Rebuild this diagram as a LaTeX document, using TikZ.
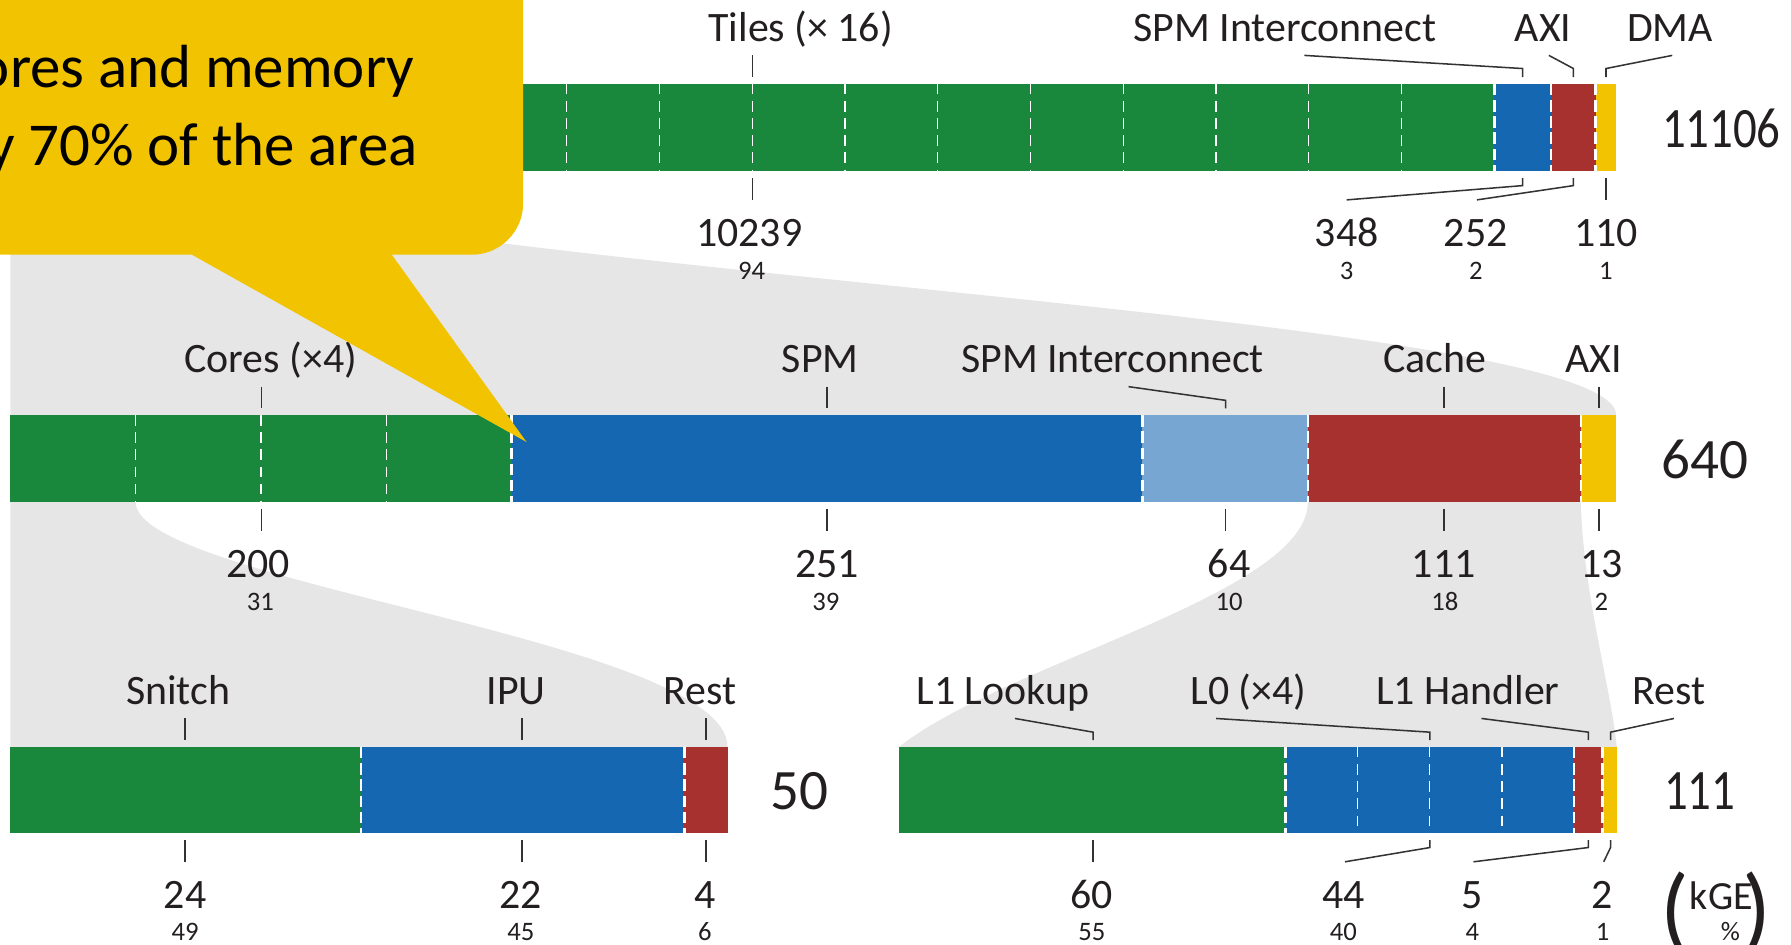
\documentclass[tikz,border=0pt]{standalone}
\usepackage{fontspec}
\setmainfont{Carlito}
\usepackage{graphicx}
\definecolor{bgreen}{HTML}{1A883C}
\definecolor{bblue}{HTML}{1467B0}
\definecolor{blight}{HTML}{76A6D1}
\definecolor{bred}{HTML}{A6312F}
\definecolor{byellow}{HTML}{F2C300}
\definecolor{fangrey}{HTML}{E6E6E6}
\definecolor{txt}{HTML}{231F20}
\definecolor{leadc}{HTML}{333333}
\tikzset{
  lbl/.style={font=\fontsize{22}{26}\selectfont, text=txt, inner sep=0pt, anchor=base},
  num/.style={font=\fontsize{22}{26}\selectfont, text=txt, inner sep=0pt, anchor=base},
  sml/.style={font=\fontsize{14}{17}\selectfont, text=txt, inner sep=0pt, anchor=base},
  tot/.style={font=\fontsize{30}{36}\selectfont, text=txt, inner sep=0pt, anchor=base},
  paren/.style={font=\fontsize{50}{60}\selectfont, text=txt, inner sep=0pt, anchor=base},
  callouttext/.style={font=\fontsize{32}{40}\selectfont, text=black, inner sep=0pt, anchor=base east},
  leader/.style={draw=leadc, line width=0.8pt},
  bigsep/.style={draw=white, line width=1.4pt, dash pattern=on 6pt off 2.5pt},
  smallsep/.style={draw=white, line width=0.6pt, dash pattern=on 5.5pt off 3.5pt},
}
\begin{document}
\begin{tikzpicture}[x=0.6pt,y=-0.6pt]
\useasboundingbox (0,0) rectangle (1568,827);
% ---------- zoom fans ----------
\fill[fangrey] (9,150) -- (90.2,150) .. controls (350,240) and (1415,275) .. (1415,363.5) -- (9,363.5) -- cycle;
\fill[fangrey] (9,439.5) -- (118.75,439.5) .. controls (118.75,510) and (637,560) .. (637,654) -- (9,654) -- cycle;
\fill[fangrey] (1145,439.5) -- (1384,439.5) .. controls (1386,520) and (1410,600) .. (1415.5,654) -- (787,654) .. controls (880,580) and (1145,520) .. (1145,439.5) -- cycle;

% ---------- top bar ----------
\fill[bgreen] (9,73.5) rectangle (1308.2,150);
\fill[bblue] (1308.2,73.5) rectangle (1358,150);
\fill[bred] (1358,73.5) rectangle (1397,150);
\fill[byellow] (1397,73.5) rectangle (1415,150);
\foreach \k in {1,...,15} \draw[smallsep] ({9+81.2*\k},73.5) -- ({9+81.2*\k},150);
\foreach \xx in {1308.2,1358,1397} \draw[bigsep] (\xx,73.5) -- (\xx,150);

\node[lbl] (l-tiles) at (701,36) {Tiles (× 16)};
\node[lbl] (l-spmi1) at (1125,36) {SPM Interconnect};
\node[lbl] (l-axi1) at (1351,36) {AXI};
\node[lbl] (l-dma) at (1462,36) {DMA};
\draw[leader] (658.6,48.5) -- (658.6,67.5);
\draw[leader] (1142,48.5) -- (1333,60) -- (1333,67.5);
\draw[leader] (1356,48.5) -- (1377.5,60) -- (1377.5,67.5);
\draw[leader] (1464,48.5) -- (1406,60) -- (1406,67.5);
\draw[leader] (658.6,156) -- (658.6,175);
\draw[leader] (1333,156) -- (1333,162.5) -- (1179,175);
\draw[leader] (1377.5,156) -- (1377.5,162.5) -- (1293,175);
\draw[leader] (1406,156) -- (1406,175);
\node[num] (n-tiles) at (656,216) {10239};
\node[num] (n-spmi1) at (1179,216) {348};
\node[num] (n-axi1) at (1292,216) {252};
\node[num] (n-dma) at (1406,216) {110};
\node[sml] (p-tiles) at (658,245) {94};
\node[sml] (p-spmi1) at (1179,245) {3};
\node[sml] (p-axi1) at (1292,245) {2};
\node[sml] (p-dma) at (1406,245) {1};
\node[tot] (t-top) at (1507,129) {\scalebox{0.82}[1]{11106}};

% ---------- middle bar ----------
\fill[bgreen] (9,363.5) rectangle (448,439.5);
\fill[bblue] (448,363.5) rectangle (1000,439.5);
\fill[blight] (1000,363.5) rectangle (1145,439.5);
\fill[bred] (1145,363.5) rectangle (1384,439.5);
\fill[byellow] (1384,363.5) rectangle (1415,439.5);
\foreach \xx in {118.75,228.5,338.25} \draw[smallsep] (\xx,363.5) -- (\xx,439.5);
\foreach \xx in {448,1000,1145,1384} \draw[bigsep] (\xx,363.5) -- (\xx,439.5);

\node[lbl] (l-cores) at (237,326) {Cores (×4)};
\node[lbl] (l-spm) at (718,326) {SPM};
\node[lbl] (l-spmi2) at (974,326) {SPM Interconnect};
\node[lbl] (l-cache) at (1256,326) {Cache};
\node[lbl] (l-axi2) at (1395,326) {AXI};
\draw[leader] (229,338.5) -- (229,357.5);
\draw[leader] (724,338.5) -- (724,357.5);
\draw[leader] (988,338.5) -- (1073,350.5) -- (1073,357.5);
\draw[leader] (1264,338.5) -- (1264,357.5);
\draw[leader] (1400,338.5) -- (1400,357.5);
\draw[leader] (229,445.5) -- (229,464.5);
\draw[leader] (724,445.5) -- (724,464.5);
\draw[leader] (1073,445.5) -- (1073,464.5);
\draw[leader] (1264,445.5) -- (1264,464.5);
\draw[leader] (1400,445.5) -- (1400,464.5);
\node[num] (n-cores) at (226,505.5) {200};
\node[num] (n-spm) at (724,505.5) {251};
\node[num] (n-spmi2) at (1076,505.5) {64};
\node[num] (n-cache) at (1264,505.5) {111};
\node[num] (n-axi2) at (1402,505.5) {13};
\node[sml] (p-cores) at (228,534.5) {31};
\node[sml] (p-spm) at (723,534.5) {39};
\node[sml] (p-spmi2) at (1076,534.5) {10};
\node[sml] (p-cache) at (1265,534.5) {18};
\node[sml] (p-axi2) at (1402,534.5) {2};
\node[tot] (t-mid) at (1493,418.5) {640};

% ---------- bottom left bar ----------
\fill[bgreen] (9,654) rectangle (316,729.5);
\fill[bblue] (316,654) rectangle (599,729.5);
\fill[bred] (599,654) rectangle (637,729.5);
\foreach \xx in {316,599} \draw[bigsep] (\xx,654) -- (\xx,729.5);
\node[lbl] (l-snitch) at (156,616.5) {Snitch};
\node[lbl] (l-ipu) at (452,616.5) {IPU};
\node[lbl] (l-rest1) at (613,616.5) {Rest};
\draw[leader] (162,629) -- (162,648);
\draw[leader] (457,629) -- (457,648);
\draw[leader] (618,629) -- (618,648);
\draw[leader] (162,735.5) -- (162,754.5);
\draw[leader] (457,735.5) -- (457,754.5);
\draw[leader] (618,735.5) -- (618,754.5);
\node[num] (n-snitch) at (162,795.5) {24};
\node[num] (n-ipu) at (456,795.5) {22};
\node[num] (n-rest1) at (617,795.5) {4};
\node[sml] (p-snitch) at (162,823) {49};
\node[sml] (p-ipu) at (456,823) {45};
\node[sml] (p-rest1) at (617,823) {6};
\node[tot] (t-core) at (700,708.75) {50};

% ---------- bottom right bar ----------
\fill[bgreen] (787,654) rectangle (1125.5,729.5);
\fill[bblue] (1125.5,654) rectangle (1378,729.5);
\fill[bred] (1378,654) rectangle (1403,729.5);
\fill[byellow] (1403,654) rectangle (1415.5,729.5);
\foreach \xx in {1188.6,1251.8,1315} \draw[smallsep] (\xx,654) -- (\xx,729.5);
\foreach \xx in {1125.5,1378,1403} \draw[bigsep] (\xx,654) -- (\xx,729.5);
\node[lbl] (l-l1l) at (878,616.5) {L1 Lookup};
\node[lbl] (l-l0) at (1093,616.5) {L0 (×4)};
\node[lbl] (l-l1h) at (1285,616.5) {L1 Handler};
\node[lbl] (l-rest2) at (1461,616.5) {Rest};
\draw[leader] (888.6,629) -- (957,641) -- (957,648);
\draw[leader] (1064.6,629) -- (1251.8,641) -- (1251.8,648);
\draw[leader] (1297,629) -- (1390.5,641) -- (1390.5,648);
\draw[leader] (1465.5,629) -- (1410,641) -- (1410,648);
\draw[leader] (957,735.5) -- (957,754.5);
\draw[leader] (1251.8,735.5) -- (1251.8,742) -- (1177.5,754.5);
\draw[leader] (1390.5,735.5) -- (1390.5,742) -- (1290,754.5);
\draw[leader] (1410,735.5) -- (1410,742) -- (1404,754.5);
\node[num] (n-l1l) at (956,795.5) {60};
\node[num] (n-l0) at (1176,795.5) {44};
\node[num] (n-l1h) at (1289,795.5) {5};
\node[num] (n-rest2) at (1403,795.5) {2};
\node[sml] (p-l1l) at (956,823) {55};
\node[sml] (p-l0) at (1176,823) {40};
\node[sml] (p-l1h) at (1289,823) {4};
\node[sml] (p-rest2) at (1403,823) {1};
\node[tot] (t-cache) at (1488,708.75) {\scalebox{0.82}[1]{111}};

% ---------- unit key ----------
\node[paren] (u-lp) at (1466,824) {(};
\node[paren] (u-rp) at (1538,824) {)};
\node[font=\fontsize{21}{25}\selectfont, text=txt, inner sep=0pt, anchor=base] (u-kge) at (1507,796) {kGE};
\node[sml] (u-pct) at (1515,823) {\%};

% ---------- callout ----------
\fill[byellow] (-5,-5) -- (458,-5) -- (458,178) .. controls (458,202.8) and (437.8,223) .. (413,223) -- (343,223) -- (461,387) -- (168,223) -- (-5,223) -- cycle;
\node[callouttext] (c-l1) at (363,77) {ores and memory};
\node[callouttext] (c-l2) at (366,144.5) {y 70\% of the area};
\end{tikzpicture}
\end{document}
